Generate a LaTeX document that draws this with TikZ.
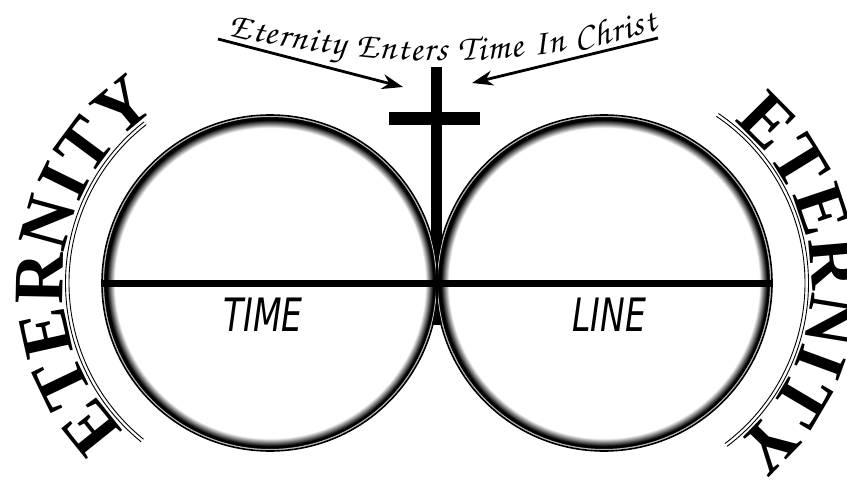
\documentclass[tikz,border=0pt]{standalone}
\usepackage{fontspec}
\usetikzlibrary{arrows.meta,decorations.text}
\newfontfamily\eterfont{Liberation Serif}
\newfontfamily\segfont{DejaVu Sans Condensed}
\newcommand\etfont{\eterfont\bfseries\fontsize{71}{71}\selectfont}
\newcommand\hdrfont{\usefont{OT1}{pzc}{mb}{it}\fontsize{36}{36}\selectfont}
\pgfdeclareradialshading{ringshade}{\pgfpoint{0bp}{0bp}}{color(0bp)=(white); color(23.3bp)=(white); color(24.5bp)=(black); color(50bp)=(black)}
\tikzset{
  ring/.style={circle, minimum size=333pt, inner sep=0pt, shading=ringshade, draw=gray!55, line width=1pt},
  crossbar/.style={fill=black, inner sep=0pt},
  pointer/.style={line width=2.8pt, -{Stealth[length=21pt,width=15pt]}},
  seglabel/.style={font=\segfont\itshape\fontsize{46}{46}\selectfont, inner sep=0pt, xscale=0.8},
  thinarc/.style={line width=0.9pt},
}
\begin{document}
\begin{tikzpicture}[x=1pt,y=1pt]
\useasboundingbox (0,-495) rectangle (847,0);
\fill[white] (0,-495) rectangle (847,0);
% cross
\node[crossbar, minimum width=11pt, minimum height=258pt, anchor=north] (post) at (436.5,-67) {};
% circles
\node[ring] (lc) at (270,-283) {};
\node[ring] (rc) at (604,-283) {};
\draw[line width=1.6pt] (lc.center) circle[radius=168];
\draw[line width=1.6pt] (rc.center) circle[radius=168];
\node[crossbar, minimum width=91pt, minimum height=13pt] (beam) at (434.5,-118.5) {};
% time line
\draw[line width=7pt] (lc.west) -- (rc.east);
\node[seglabel] (time) at (263,-315) {TIME};
\node[seglabel] (line) at (609,-315) {LINE};
% header and pointers
\path[decorate, decoration={text along path, text={|\hdrfont|Eternity Enters Time In Christ}, text align={fit to path}}]
  (228,-35) .. controls (380,-72) and (540,-68) .. (658,-30);
\coordinate (lt) at (218,-39);
\coordinate (lh) at (403,-87);
\coordinate (rt) at (658,-38);
\coordinate (rh) at (472,-83);
\draw[pointer] (lt) -- (lh);
\draw[pointer] (rt) -- (rh);
% eternity arcs
\begin{scope}[shift={(270,-283)}]
  \draw[thinarc] (231:201) arc[start angle=231, end angle=128, radius=201];
  \draw[thinarc] (231:204.5) arc[start angle=231, end angle=128, radius=204.5];
  \path[decorate, decoration={text along path, text={|\etfont|ETERNITY}, text align=center}]
    (226:207) arc[start angle=226, end angle=122, radius=207];
\end{scope}
\begin{scope}[shift={(604,-283)}]
  \draw[thinarc] (56:201) arc[start angle=56, end angle=-53, radius=201];
  \draw[thinarc] (56:204.5) arc[start angle=56, end angle=-53, radius=204.5];
  \path[decorate, decoration={text along path, text={|\etfont|ETERNITY}, text align=center}]
    (56:207) arc[start angle=56, end angle=-56, radius=207];
\end{scope}
\end{tikzpicture}
\end{document}
